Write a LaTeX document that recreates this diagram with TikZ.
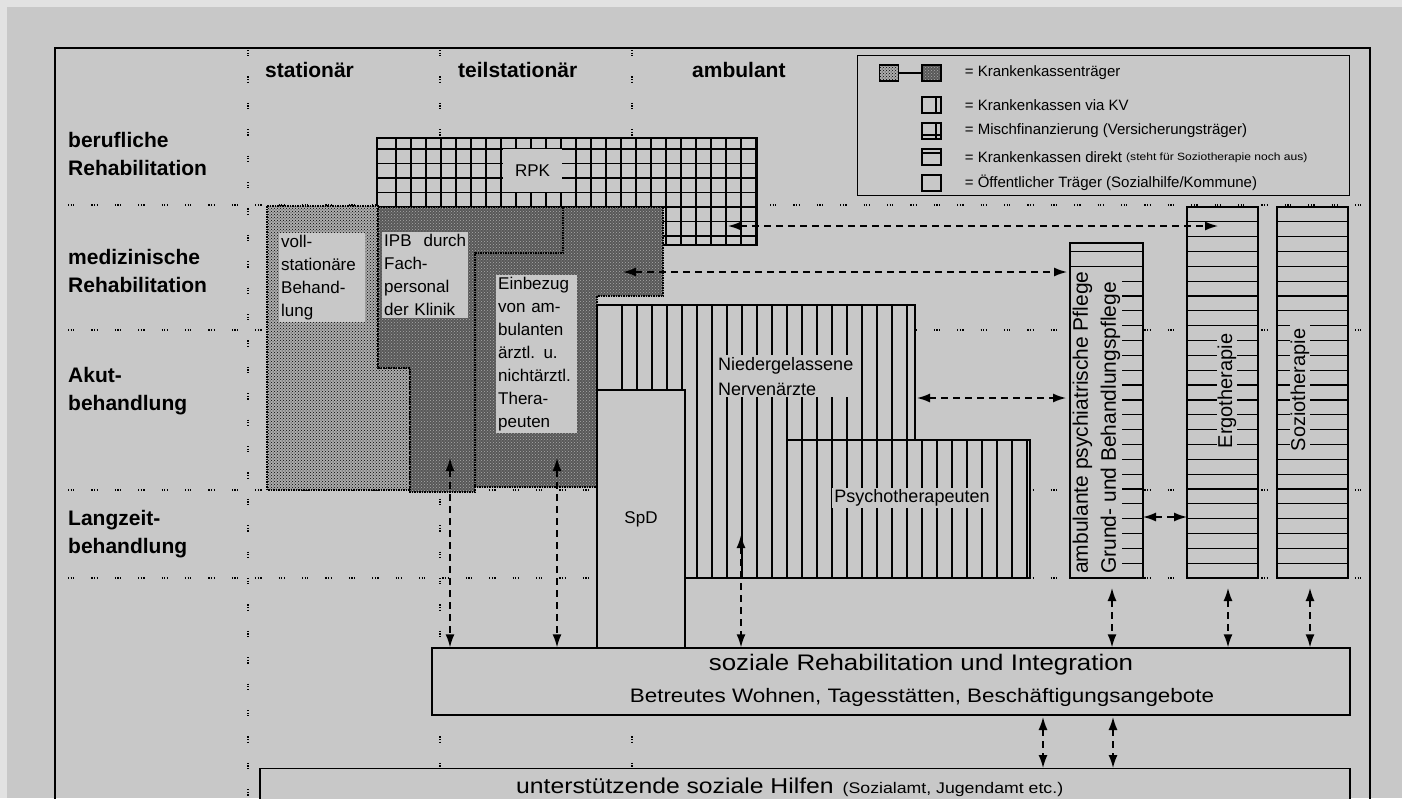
\documentclass[tikz,border=0pt]{standalone}
\usepackage{fontspec}
\setmainfont{Liberation Sans}
\newfontfamily\widefont[FakeStretch=1.15]{Liberation Sans}
\usetikzlibrary{positioning}
\usetikzlibrary{arrows.meta, patterns}

\definecolor{bggray}{RGB}{200,200,200}
\definecolor{stripgray}{RGB}{226,226,226}
\definecolor{lightfill}{RGB}{172,172,172}
\definecolor{darkfill}{RGB}{88,88,88}
\definecolor{dotgray}{RGB}{170,170,170}

\tikzset{
	rowsep/.style={line width=1.2pt, dash pattern=on 1.2pt off 1.4pt on 1.2pt off 1.4pt on 1.2pt off 17pt},
	colsep/.style={line width=1.2pt, dash pattern=on 1.2pt off 1.4pt on 1.2pt off 1.4pt on 1.2pt off 20pt},
	hatch/.style={line width=1.2pt},
	outline/.style={draw, line width=1.4pt},
	rowlabel/.style={font=\bfseries\fontsize{21}{28}\selectfont, align=left, anchor=west, inner sep=0pt},
	colhead/.style={font=\bfseries\fontsize{21}{25}\selectfont, anchor=west, inner sep=0pt},
	txtbox/.style={fill=bggray, align=left, font=\fontsize{17}{23}\selectfont, inner sep=2pt},
	legtext/.style={font=\fontsize{15}{18}\selectfont, anchor=west, inner sep=0pt},
	legsym/.style={draw, line width=1.3pt, minimum width=19pt, minimum height=16pt, inner sep=0pt, fill=bggray},
	flow/.style={{Latex[length=13pt,width=9pt]}-{Latex[length=13pt,width=9pt]}, line width=1.5pt, dash pattern=on 7pt off 5pt},
	lightdots/.style={preaction={fill=lightfill}, pattern=crosshatch dots, pattern color=black},
	darkdots/.style={preaction={fill=darkfill}, pattern=crosshatch dots, pattern color=dotgray},
}

\begin{document}
\begin{tikzpicture}[x=1pt, y=-1pt]
		\useasboundingbox (0,0) rectangle (1402,798);
		\fill[bggray] (0,0) rectangle (1402,798);
		\fill[stripgray] (0,0) rectangle (1402,7);
		\fill[stripgray] (0,0) rectangle (7,798);

		% frame and grid
		\begin{scope}
			\draw[line width=1.4pt] (55,800) -- (55,48) -- (1370,48) -- (1370,800);
			\foreach \y in {205,330,490,578}
				\draw[rowsep] (68,\y) -- (1365,\y);
			\foreach \x in {248,440,632}
				\draw[colsep] (\x,50) -- (\x,798);
		\end{scope}

		% Headers
		\begin{scope}
			\node (stat) at (265,70) [colhead] {stationär};
			\node (teil) at (458,70) [colhead] {teilstationär};
			\node (amb) at (692,70) [colhead] {ambulant};

			\node (beruf) at (68,154) [rowlabel] {berufliche\\Rehabilitation};
			\node (med) at (68,271) [rowlabel] {medizinische\\Rehabilitation};
			\node (akut) at (68,391) [rowlabel] {Akut-\\behandlung};
			\node (lang) at (68,534) [rowlabel] {Langzeit-\\behandlung};
		\end{scope}

		% RPK
		\begin{scope}
			\fill[bggray] (377,138) rectangle (757,245);
			\foreach \x in {396,411,...,756}
				\draw[hatch] (\x,138) -- (\x,245);
			\foreach \y in {149,163.5,...,240}
				\draw[hatch] (377,\y) -- (757,\y);
			\draw[outline] (377,138) rectangle (757,245);
			\node (rpk) at (532.5,170.5) [fill=bggray, inner sep=0pt, minimum width=59pt, minimum height=43pt, font=\fontsize{17}{20}\selectfont] {RPK};
		\end{scope}

		% stationaer / teilstationaer
		\begin{scope}
			\path[lightdots] (267,206) -- (378,206) -- (378,368) -- (410,368) -- (410,490) -- (267,490) -- cycle;
			\draw[line width=1.5pt, densely dotted] (267,206) -- (378,206) -- (378,368) -- (410,368) -- (410,490) -- (267,490) -- cycle;
			\path[darkdots] (378,207) -- (563,207) -- (563,253) -- (475,253) -- (475,492) -- (410,492) -- (410,368) -- (378,368) -- cycle;
			\path[darkdots] (563,207) -- (663,207) -- (663,296) -- (597,296) -- (597,487) -- (475,487) -- (475,253) -- (563,253) -- cycle;
			\draw[line width=1.5pt, densely dotted] (378,207) -- (663,207) -- (663,296) -- (597,296) -- (597,487) -- (475,487) -- (475,492) -- (410,492) -- (410,368) -- (378,368) -- cycle;
			\draw[line width=1.5pt, densely dotted] (563,207) -- (563,253) -- (475,253) -- (475,487);

			\node (voll) at (279,233) [txtbox, anchor=north west, text width=82pt] {voll-\\stationäre\\Behand-\\lung};
			\node (ipb) at (382,232) [txtbox, anchor=north west, text width=82pt] {IPB\hfill durch\\Fach-\\personal\\der Klinik};
			\node (einbez) at (496,275) [txtbox, anchor=north west, text width=77pt] {Einbezug\\von am-\\bulanten\\ärztl. u.\\nichtärztl.\\Thera-\\peuten};
		\end{scope}

		% ambulant: Nervenaerzte, Psychotherapeuten, SpD
		\begin{scope}
			\begin{scope}
				\clip (597,305) -- (915,305) -- (915,440) -- (1030,440) -- (1030,578) -- (685,578) -- (685,392) -- (597,392) -- cycle;
				\fill[bggray] (590,300) rectangle (1035,580);
				\foreach \x in {622,637,...,1027}
					\draw[hatch] (\x,300) -- (\x,580);
			\end{scope}
			\draw[outline] (597,305) -- (915,305) -- (915,440) -- (787,440) -- (787,578) -- (685,578) -- (685,392) -- (597,392) -- cycle;
			\draw[outline] (787,440) rectangle (1030,578);

			\node (nerv) at (716,355) [txtbox, anchor=north west, font=\fontsize{18}{25}\selectfont] {Niedergelassene\\Nervenärzte};
			\node (psych) at (912,498) [txtbox, font=\fontsize{18}{22}\selectfont] {Psychotherapeuten};

			\node (spd) at (641,519) [outline, fill=bggray, minimum width=88pt, minimum height=258pt, font=\fontsize{17}{20}\selectfont] {SpD};
		\end{scope}

		% Pflege, Ergotherapie, Soziotherapie
		\begin{scope}
			\fill[bggray] (1070,243) rectangle (1143,578);
			\foreach \k in {3,...,24}
				\draw[hatch] (1070,{207+14.84*\k}) -- (1143,{207+14.84*\k});
			\node (pflege) at (1070.5,576) [rotate=90, anchor=north west, fill=bggray, align=left, inner sep=2pt, font=\fontsize{21}{28}\selectfont] {ambulante psychiatrische Pflege\\Grund- und Behandlungspflege};
			\draw[outline] (1070,243) rectangle (1143,578);

			\fill[bggray] (1187,207) rectangle (1258,578);
			\foreach \k in {1,...,24}
				\draw[hatch] (1187,{207+14.84*\k}) -- (1258,{207+14.84*\k});
			\node (ergo) at (1227,391) [rotate=90, fill=bggray, inner xsep=7pt, inner ysep=1pt, font=\fontsize{20}{24}\selectfont] {Ergotherapie};
			\draw[outline] (1187,207) rectangle (1258,578);

			\fill[bggray] (1277,207) rectangle (1348,578);
			\foreach \k in {1,...,24}
				\draw[hatch] (1277,{207+14.84*\k}) -- (1348,{207+14.84*\k});
			\node (sozio) at (1300,390) [rotate=90, fill=bggray, inner xsep=7pt, inner ysep=1pt, font=\fontsize{20}{24}\selectfont] {Soziotherapie};
			\draw[outline] (1277,207) rectangle (1348,578);
		\end{scope}

		% soziale Rehabilitation / Hilfen
		\begin{scope}
			\node (sozreha) at (891,681.5) [outline, fill=bggray, minimum width=918pt, minimum height=67pt] {};
			\node (sozrehaA) at (921,665) [inner sep=0pt, font=\widefont\fontsize{22.5}{26}\selectfont] {soziale Rehabilitation und Integration};
			\node (sozrehaB) at (922,697) [inner sep=0pt, font=\widefont\fontsize{19.5}{23}\selectfont] {Betreutes Wohnen, Tagesstätten, Beschäftigungsangebote};

			\node (hilfen) at (805,768) [outline, fill=bggray, anchor=north, minimum width=1090pt, minimum height=60pt] {};
			\node (hilfentxt) at (516,787) [anchor=west, inner sep=0pt, font=\widefont\fontsize{21.5}{24}\selectfont] {unterstützende soziale Hilfen\hspace{9pt}{\fontsize{15.4}{18}\selectfont(Sozialamt, Jugendamt etc.)}};
		\end{scope}

		% Legende
		\begin{scope}
			\node (legend) at (857,55) [outline, fill=bggray, anchor=north west, minimum width=492pt, minimum height=140pt] {};
			\node (symA) at (889,73) [legsym, lightdots] {};
			\node (symB) at (931.5,73) [legsym, darkdots] {};
			\draw[line width=1.3pt] (symA) -- (symB);
			\node (symKV) at (931.5,105) [legsym, path picture={\draw[line width=1.2pt] ([xshift=-5pt]path picture bounding box.north east) -- ([xshift=-5pt]path picture bounding box.south east);}] {};
			\node (symMisch) at (931.5,131) [legsym, path picture={\draw[line width=1.2pt] ([xshift=-5pt]path picture bounding box.north east) -- ([xshift=-5pt]path picture bounding box.south east); \draw[line width=1.2pt] ([yshift=4pt]path picture bounding box.south west) -- ([yshift=4pt]path picture bounding box.south east);}] {};
			\node (symDir) at (931.5,157) [legsym, path picture={\draw[line width=1.2pt] ([yshift=-4pt]path picture bounding box.north west) -- ([yshift=-4pt]path picture bounding box.north east);}] {};
			\node (symOeff) at (931.5,183) [legsym] {};

			\node (legA) [legtext, right=23pt of symB] {= Krankenkassenträger};
			\node (legKV) [legtext, right=23pt of symKV] {= Krankenkassen via KV};
			\node (legMisch) [legtext, right=23pt of symMisch] {= Mischfinanzierung (Versicherungsträger)};
			\node (legDir) [legtext, right=23pt of symDir] {= Krankenkassen direkt \raisebox{2pt}{\widefont\fontsize{10.5}{12}\selectfont(steht für Soziotherapie noch aus)}};
			\node (legOeff) [legtext, right=23pt of symOeff] {= Öffentlicher Träger (Sozialhilfe/Kommune)};
		\end{scope}

		% Pfeile
		\begin{scope}
			\coordinate (rpkArr) at (728,226);
			\coordinate (ergoArr) at (1218,226);
			\coordinate (einArr) at (623,272);
			\coordinate (pflArr) at (1067,272);
			\coordinate (nervArr) at (917,398);
			\coordinate (pflArrB) at (1066,398);
			\coordinate (pflArrC) at (1143,517);
			\coordinate (ergoArrB) at (1187,517);

			\coordinate (ipbTop) at (450,458);
			\coordinate (einTop) at (557,458);
			\coordinate (nervTop) at (741,535);
			\coordinate (pflTop) at (1112,588);
			\coordinate (ergoTop) at (1228,588);
			\coordinate (sozioTop) at (1310,588);
			\coordinate (hilfA) at (1043,717);
			\coordinate (hilfB) at (1113,717);

			\draw[flow] (rpkArr) -- (ergoArr);
			\draw[flow] (einArr) -- (pflArr);
			\draw[flow] (nervArr) -- (pflArrB);
			\draw[flow] (pflArrC) -- (ergoArrB);

			\foreach \n in {ipbTop,einTop,nervTop,pflTop,ergoTop,sozioTop}
				\draw[flow] (\n) -- (\n |- sozreha.north);
			\foreach \n in {hilfA,hilfB}
				\draw[flow] (\n) -- (\n |- hilfen.north);
		\end{scope}

	\end{tikzpicture}
\end{document}
